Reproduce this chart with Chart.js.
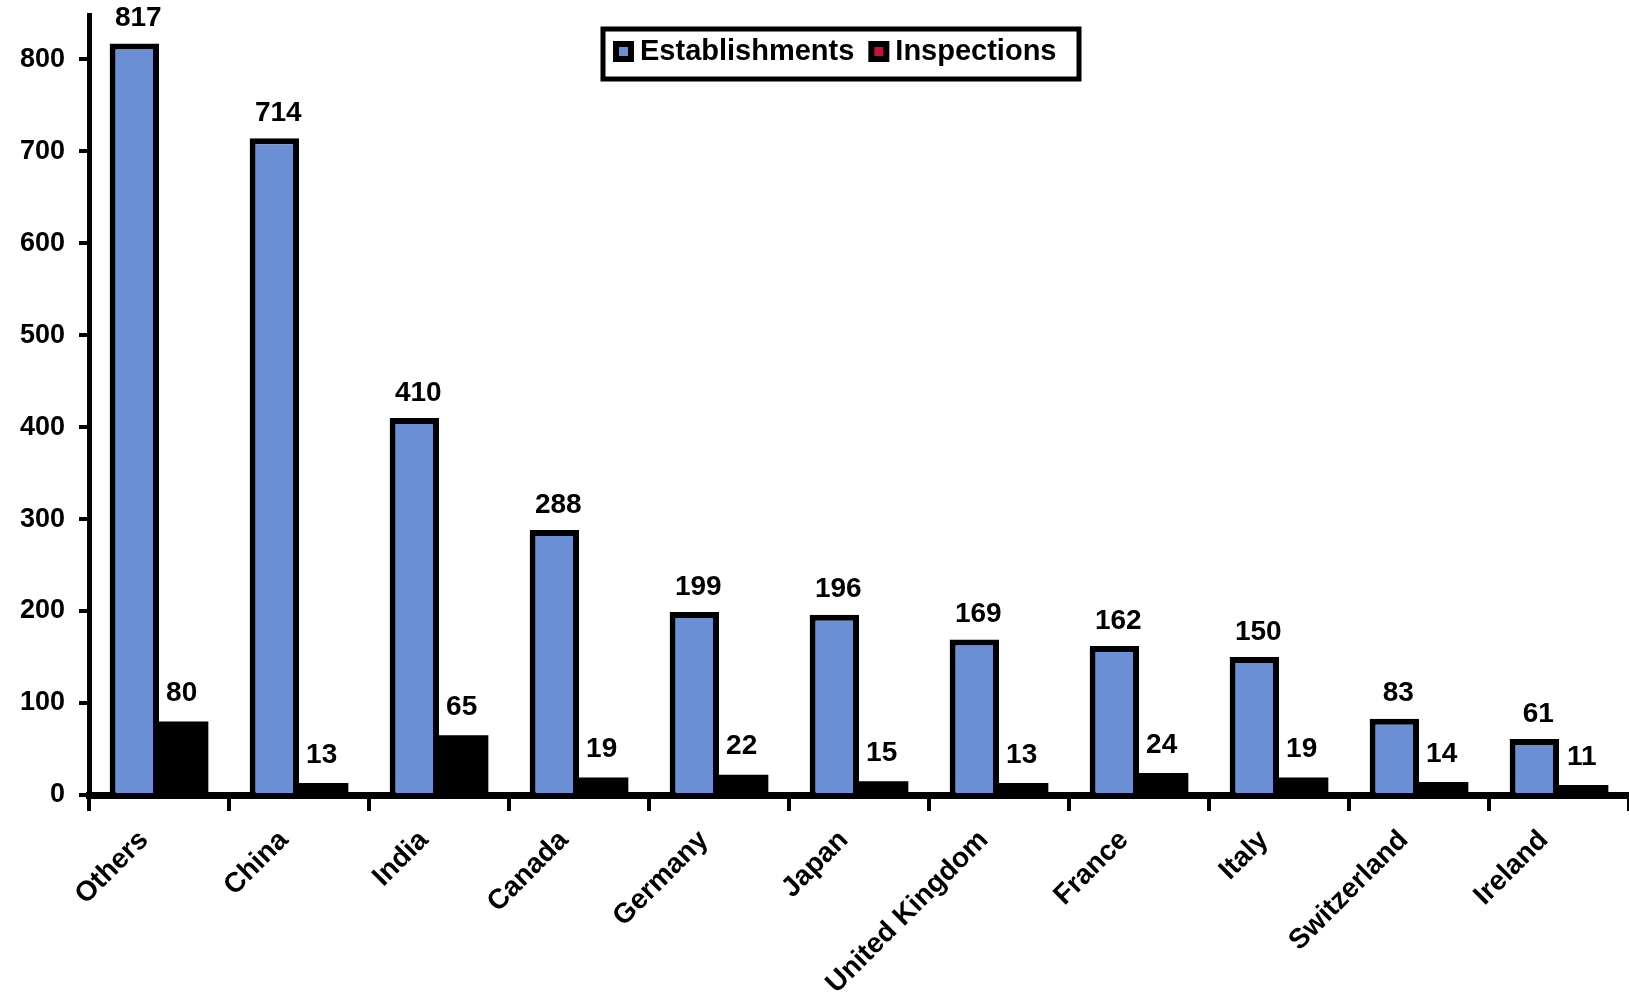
<!DOCTYPE html>
<html>
<head>
<meta charset="utf-8">
<script src="https://cdn.jsdelivr.net/npm/chart.js@4.4.1/dist/chart.umd.min.js"></script>
<style>
html,body{margin:0;padding:0;background:#fff;}
#wrap{width:1629px;height:996px;}
</style>
</head>
<body>
<div id="wrap"><canvas id="c" width="1629" height="996"></canvas></div>
<script>
const categories = ["Others","China","India","Canada","Germany","Japan","United Kingdom","France","Italy","Switzerland","Ireland"];
const establishments = [817,714,410,288,199,196,169,162,150,83,61];
const inspections = [80,13,65,19,22,15,13,24,19,14,11];
const yTicks = [0,100,200,300,400,500,600,700,800];
const seriesNames = ["Establishments","Inspections"];

const FONT = "'Liberation Sans', Arial, sans-serif";

const valueLabels = {
  id: 'valueLabels',
  afterDatasetsDraw(chart) {
    const ctx = chart.ctx;
    ctx.save();
    ctx.fillStyle = '#000';
    ctx.font = 'bold 28px ' + FONT;
    ctx.textAlign = 'center';
    ctx.textBaseline = 'bottom';
    chart.data.datasets.forEach((ds, di) => {
      const meta = chart.getDatasetMeta(di);
      const gap = di === 0 ? 11 : 14;
      const dx = di === 0 ? 4 : -2;
      meta.data.forEach((bar, i) => {
        ctx.fillText(String(ds.data[i]), bar.x + dx, bar.y - gap);
      });
    });
    ctx.restore();
  }
};

const boxLegend = {
  id: 'boxLegend',
  afterDraw(chart) {
    const ctx = chart.ctx;
    ctx.save();
    const bx = 603, by = 29, bw = 476, bh = 50;
    ctx.fillStyle = '#fff';
    ctx.fillRect(bx, by, bw, bh);
    ctx.strokeStyle = '#000';
    ctx.lineWidth = 5;
    ctx.strokeRect(bx, by, bw, bh);
    ctx.font = 'bold 29px ' + FONT;
    ctx.textBaseline = 'middle';
    ctx.textAlign = 'left';
    const cy = by + bh / 2 - 3;
    const inner = ['#6b8fd4', '#c0143c'];
    let x = 613;
    chart.data.datasets.forEach((ds, di) => {
      ctx.fillStyle = '#000';
      ctx.fillRect(x, cy - 10, 21, 21);
      ctx.fillStyle = inner[di];
      ctx.fillRect(x + 6, cy - 4, 9, 9);
      ctx.fillStyle = '#000';
      ctx.fillText(ds.label, x + 27, cy + 1);
      x = x + 27 + ctx.measureText(ds.label).width + 14;
    });
    ctx.restore();
  }
};

new Chart(document.getElementById('c'), {
  type: 'bar',
  data: {
    labels: categories,
    datasets: [
      {
        label: seriesNames[0],
        data: establishments,
        backgroundColor: '#6b8fd4',
        borderColor: '#000',
        borderWidth: 6,
        borderSkipped: 'start',
        categoryPercentage: 0.705,
        barPercentage: 1.0
      },
      {
        label: seriesNames[1],
        data: inspections,
        backgroundColor: '#000',
        borderWidth: 0,
        categoryPercentage: 0.705,
        barPercentage: 1.0
      }
    ]
  },
  options: {
    responsive: false,
    animation: false,
    devicePixelRatio: 1,
    layout: { padding: { top: 9, right: 0, left: 0, bottom: 0 } },
    plugins: {
      legend: { display: false },
      title: { display: false },
      tooltip: { enabled: false }
    },
    scales: {
      x: {
        grid: {
          display: true,
          offset: true,
          drawOnChartArea: false,
          drawTicks: true,
          tickLength: 16,
          color: '#000',
          lineWidth: 4
        },
        border: { display: true, color: '#000', width: 7 },
        ticks: {
          color: '#000',
          font: { family: FONT, size: 28, weight: 'bold', lineHeight: '2px' },
          minRotation: 45,
          maxRotation: 45,
          autoSkip: false,
          padding: 24,
          labelOffset: -15
        },
        afterFit(s) { s.height = 996 - 9 - 786; }
      },
      y: {
        min: 0,
        max: 848,
        grid: {
          display: true,
          drawOnChartArea: false,
          drawTicks: true,
          tickLength: 10,
          color: '#000',
          lineWidth: 4
        },
        border: { display: true, color: '#000', width: 5 },
        ticks: {
          color: '#000',
          font: { family: FONT, size: 27, weight: 'bold', lineHeight: '2px' },
          padding: 14,
          stepSize: 100
        },
        afterBuildTicks(s) { s.ticks = yTicks.map(v => ({ value: v })); },
        afterFit(s) { s.width = 89; }
      }
    }
  },
  plugins: [valueLabels, boxLegend]
});
</script>
</body>
</html>
